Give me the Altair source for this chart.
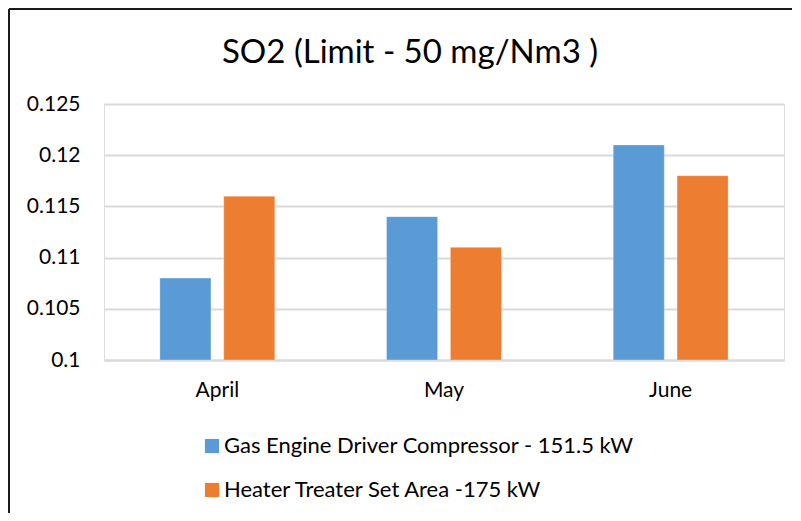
import altair as alt
import pandas as pd

months = ["April", "May", "June"]
series_names = ["Gas Engine Driver Compressor - 151.5 kW", "Heater Treater Set Area -175 kW"]
gas_engine = [0.108, 0.114, 0.121]
heater_treater = [0.116, 0.111, 0.118]
y_ticks = [0.1, 0.105, 0.11, 0.115, 0.12, 0.125]
title_text = "SO2 (Limit - 50 mg/Nm3 )"
colors = ["#5B9BD5", "#ED7D31"]

rows = []
for i, m in enumerate(months):
    rows.append({"month": m, "series": series_names[0], "value": gas_engine[i]})
    rows.append({"month": m, "series": series_names[1], "value": heater_treater[i]})
df = pd.DataFrame(rows)

FONT = "Lato"

bars = alt.Chart(df).mark_bar(stroke="white", strokeWidth=0.5, strokeOpacity=0.6).encode(
    x=alt.X("month:N", sort=months, title=None,
            scale=alt.Scale(paddingInner=0, paddingOuter=0),
            axis=alt.Axis(labelAngle=0, labelFontSize=21, labelColor="#000000", labelFont=FONT,
                          labelPadding=19, domainColor="#D9D9D9", domainWidth=2, ticks=False, grid=False)),
    xOffset=alt.XOffset("series:N", sort=series_names,
                        scale=alt.Scale(paddingInner=0.2, paddingOuter=0.875)),
    y=alt.Y("value:Q", title=None,
            scale=alt.Scale(domain=[0.1, 0.125], zero=False, nice=False),
            axis=alt.Axis(values=y_ticks, format="~g", labelFontSize=21, labelColor="#000000",
                          labelFont=FONT, labelPadding=24, domain=False, ticks=False,
                          gridColor="#D9D9D9", gridWidth=2)),
    y2=alt.datum(0.1),
    color=alt.Color("series:N", sort=series_names,
                    scale=alt.Scale(domain=series_names, range=colors),
                    legend=alt.Legend(title=None, orient="none", legendX=97, legendY=331,
                                      direction="vertical", symbolType="square", symbolSize=200,
                                      symbolStrokeWidth=0, labelFontSize=22, labelFont=FONT,
                                      labelColor="#000000", labelLimit=600, rowPadding=22,
                                      labelOffset=1)),
)

frame_data = alt.Data(values=[{}])
left_line = alt.Chart(frame_data).mark_rule(color="#1a1a1a", strokeWidth=2).encode(
    x=alt.value(-95), y=alt.value(-95), y2=alt.value(420))
top_line = alt.Chart(frame_data).mark_rule(color="#1a1a1a", strokeWidth=2).encode(
    x=alt.value(-95), x2=alt.value(700), y=alt.value(-95))

chart = alt.layer(bars, left_line, top_line).properties(
    width=680, height=256,
    title=alt.TitleParams(title_text, fontSize=33, font=FONT, fontWeight="normal",
                          color="#000000", anchor="middle", dx=-34, offset=0, dy=62),
    padding={"left": 96, "top": 96, "right": 8, "bottom": 153},
    autosize=alt.AutoSizeParams(type="none"),
).configure_view(stroke=None).configure(background="white")

chart.save("out.html", embed_options={"renderer": "svg", "actions": False})
